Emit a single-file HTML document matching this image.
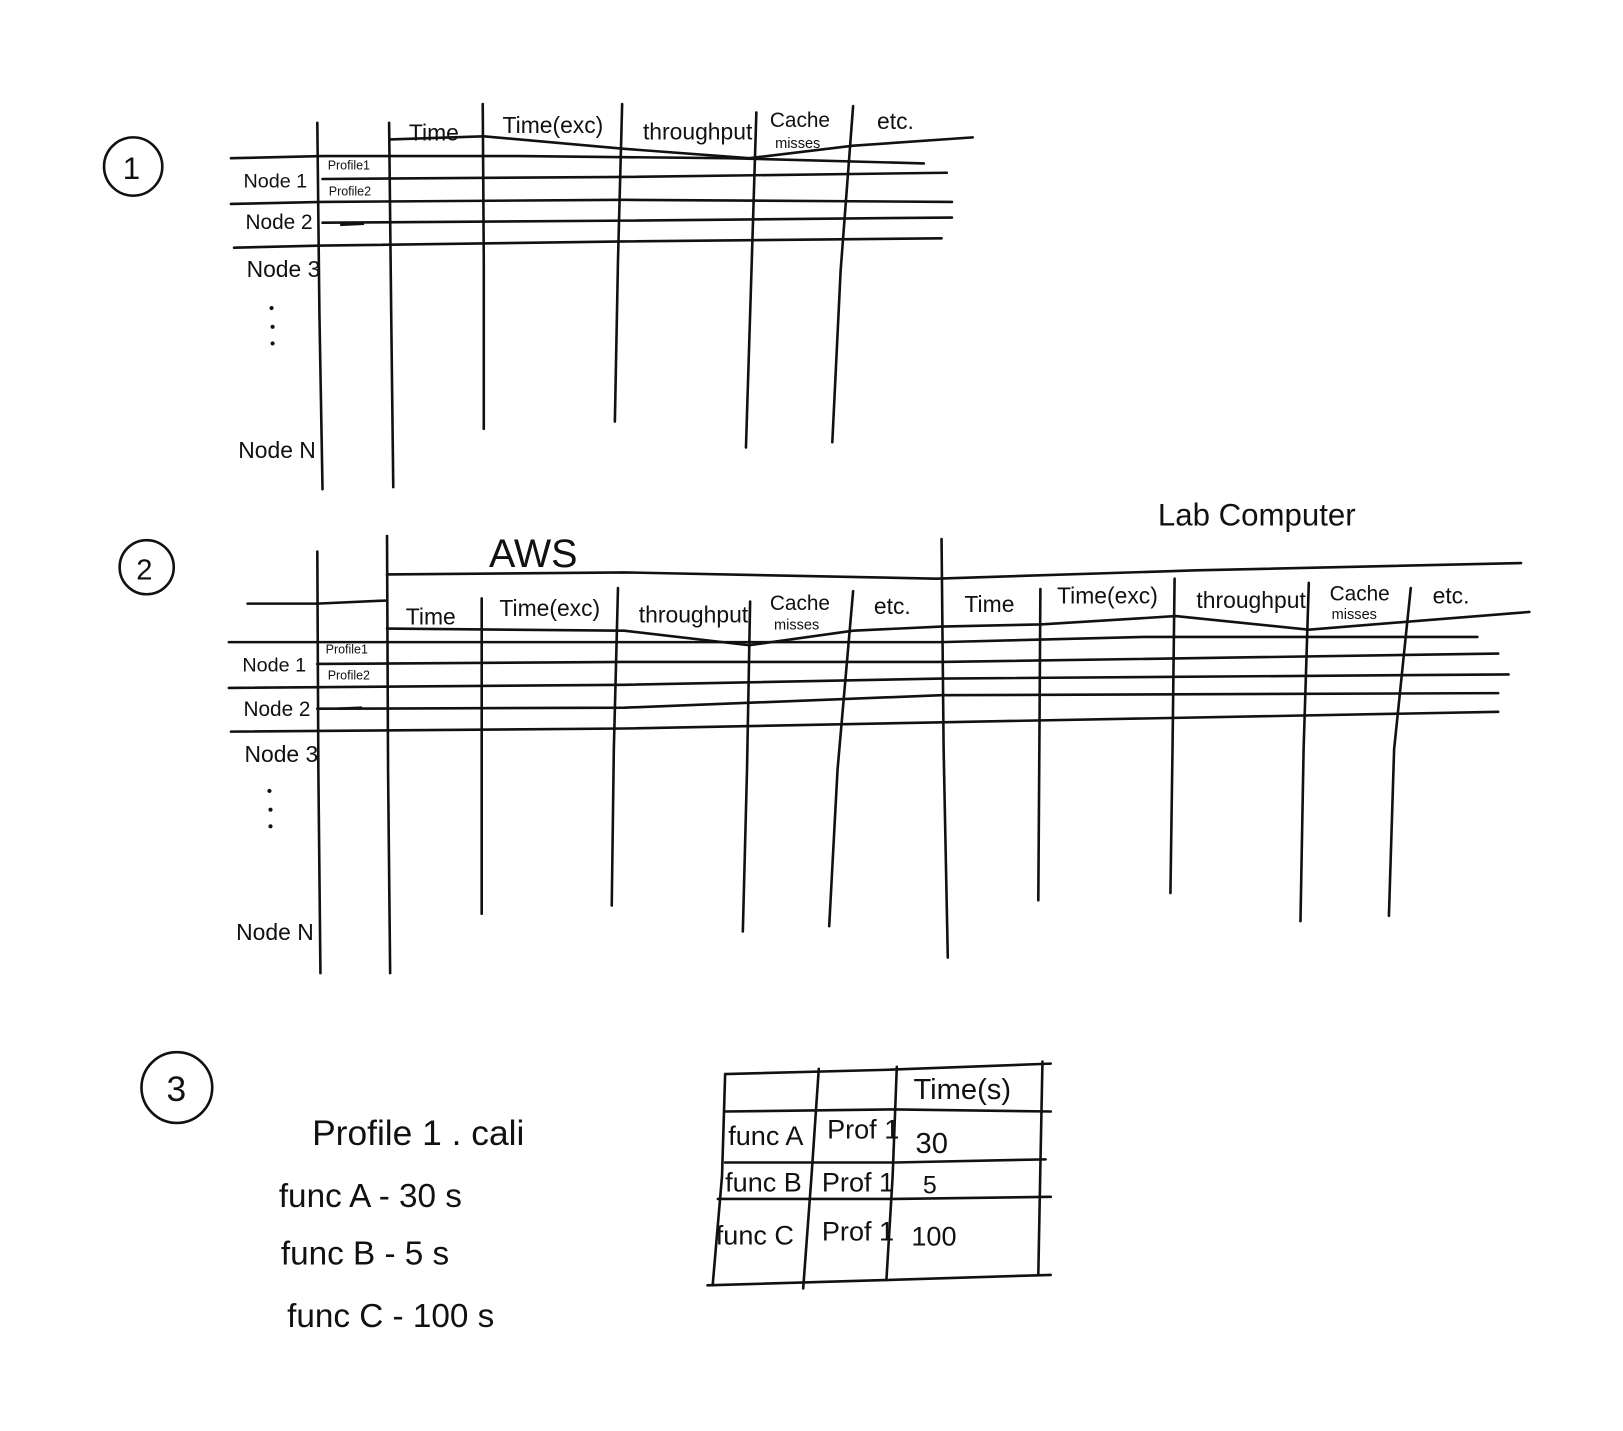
<!DOCTYPE html>
<html><head><meta charset="utf-8"><style>
html,body{margin:0;padding:0;background:#fff;}
svg{display:block}
text{font-family:"Liberation Sans",sans-serif;fill:#111}
.h{font-family:"Liberation Sans Narrow","Liberation Sans",sans-serif}
</style></head><body>
<svg width="1623" height="1431" viewBox="0 0 1560 1375" preserveAspectRatio="none" xmlns="http://www.w3.org/2000/svg">
<g fill="none" stroke="#111" stroke-width="2.5" stroke-linecap="round">
<!-- Section 1 -->
<circle cx="128" cy="160" r="28"/>
<polyline points="305,118 307,300 310,470"/>
<polyline points="374,118 376,300 378,468"/>
<polyline points="464,100 465,250 465,412"/>
<polyline points="598,100 594,250 591,405"/>
<polyline points="727,108 722,270 717,430"/>
<polyline points="820,102 808,260 800,425"/>
<polyline points="375,134 465,131 600,143 720,152 820,140 935,132"/>
<polyline points="222,152 310,150 500,150 700,152 888,157"/>
<polyline points="310,172 600,170 910,166"/>
<polyline points="222,196 310,194 600,192 915,194"/>
<polyline points="310,214 600,212 915,209"/>
<polyline points="225,238 310,236 600,232 905,229"/>
<!-- Section 2 -->
<circle cx="141" cy="545" r="26"/>
<polyline points="305,530 306,740 308,935"/>
<polyline points="372,515 373,740 375,935"/>
<polyline points="463,575 463,720 463,878"/>
<polyline points="594,565 590,720 588,870"/>
<polyline points="721,578 718,740 714,895"/>
<polyline points="820,568 805,740 797,890"/>
<polyline points="905,518 907,720 911,920"/>
<polyline points="1000,566 999,720 998,865"/>
<polyline points="1129,556 1127,720 1125,858"/>
<polyline points="1258,560 1253,720 1250,885"/>
<polyline points="1356,565 1340,720 1335,880"/>
<polyline points="238,580 305,580 372,577"/>
<polyline points="372,552 600,550 900,556 1150,548 1462,541"/>
<polyline points="372,604 600,606 720,620 820,606 905,602 1000,600 1130,592 1258,605 1470,588"/>
<polyline points="220,617 600,617 905,617 1100,612 1420,612"/>
<polyline points="305,638 600,636 905,636 1440,628"/>
<polyline points="220,661 600,658 905,652 1450,648"/>
<polyline points="305,681 600,680 905,668 1440,666"/>
<polyline points="222,703 600,700 905,694 1440,684"/>
<!-- Section 3 -->
<circle cx="170" cy="1045" r="34"/>
<polyline points="697,1032 694,1130 685,1235"/>
<polyline points="787,1027 780,1130 772,1238"/>
<polyline points="862,1025 858,1130 852,1230"/>
<polyline points="1002,1020 1000,1120 998,1225"/>
<polyline points="697,1032 850,1028 1010,1022"/>
<polyline points="697,1068 860,1066 1010,1068"/>
<polyline points="697,1117 860,1117 1005,1114"/>
<polyline points="690,1152 860,1152 1010,1150"/>
<polyline points="680,1235 850,1230 1010,1225"/>
</g>
<g stroke="#111" stroke-width="2.5">
<line x1="327" y1="216" x2="350" y2="215"/>
<line x1="325" y1="681" x2="348" y2="680"/>
</g>
<g fill="#111">
<circle cx="261" cy="296" r="2"/><circle cx="262" cy="314" r="2"/><circle cx="262" cy="330" r="2"/>
<circle cx="259" cy="760" r="2"/><circle cx="260" cy="778" r="2"/><circle cx="260" cy="794" r="2"/>
</g>
<text x="118" y="172" font-size="30">1</text>
<text class="h" x="234" y="180" font-size="19">Node 1</text>
<text class="h" x="236" y="220" font-size="20">Node 2</text>
<text class="h" x="237" y="266" font-size="22">Node 3</text>
<text class="h" x="229" y="440" font-size="22">Node N</text>
<text class="h" x="315" y="163" font-size="12">Profile1</text>
<text class="h" x="316" y="188" font-size="12">Profile2</text>
<text class="h" x="393" y="135" font-size="22">Time</text>
<text class="h" x="483" y="128" font-size="22">Time(exc)</text>
<text class="h" x="618" y="134" font-size="22">throughput</text>
<text class="h" x="740" y="122" font-size="20">Cache</text>
<text class="h" x="745" y="142" font-size="14">misses</text>
<text class="h" x="843" y="124" font-size="22">etc.</text>
<text x="131" y="557" font-size="28">2</text>
<text class="h" x="470" y="545" font-size="38">AWS</text>
<text x="1113" y="505" font-size="30">Lab Computer</text>
<text class="h" x="233" y="645" font-size="19">Node 1</text>
<text class="h" x="234" y="688" font-size="20">Node 2</text>
<text class="h" x="235" y="732" font-size="22">Node 3</text>
<text class="h" x="227" y="903" font-size="22">Node N</text>
<text class="h" x="313" y="628" font-size="12">Profile1</text>
<text class="h" x="315" y="653" font-size="12">Profile2</text>
<text class="h" x="390" y="600" font-size="22">Time</text>
<text class="h" x="480" y="592" font-size="22">Time(exc)</text>
<text class="h" x="614" y="598" font-size="22">throughput</text>
<text class="h" x="740" y="586" font-size="20">Cache</text>
<text class="h" x="744" y="605" font-size="14">misses</text>
<text class="h" x="840" y="590" font-size="22">etc.</text>
<text class="h" x="927" y="588" font-size="22">Time</text>
<text class="h" x="1016" y="580" font-size="22">Time(exc)</text>
<text class="h" x="1150" y="584" font-size="22">throughput</text>
<text class="h" x="1278" y="577" font-size="20">Cache</text>
<text class="h" x="1280" y="595" font-size="14">misses</text>
<text class="h" x="1377" y="580" font-size="22">etc.</text>
<text x="160" y="1058" font-size="34">3</text>
<text class="h" x="300" y="1100" font-size="34">Profile 1 . cali</text>
<text class="h" x="268" y="1160" font-size="32">func A - 30 s</text>
<text class="h" x="270" y="1215" font-size="32">func B -  5 s</text>
<text class="h" x="276" y="1275" font-size="32">func C - 100 s</text>
<text class="h" x="878" y="1056" font-size="28">Time(s)</text>
<text class="h" x="700" y="1100" font-size="26">func A</text>
<text class="h" x="795" y="1094" font-size="26">Prof 1</text>
<text class="h" x="880" y="1108" font-size="28">30</text>
<text class="h" x="697" y="1145" font-size="26">func B</text>
<text class="h" x="790" y="1145" font-size="26">Prof 1</text>
<text class="h" x="887" y="1147" font-size="24">5</text>
<text class="h" x="688" y="1196" font-size="26">func C</text>
<text class="h" x="790" y="1192" font-size="26">Prof 1</text>
<text class="h" x="876" y="1197" font-size="26">100</text>
</svg>
</body></html>
